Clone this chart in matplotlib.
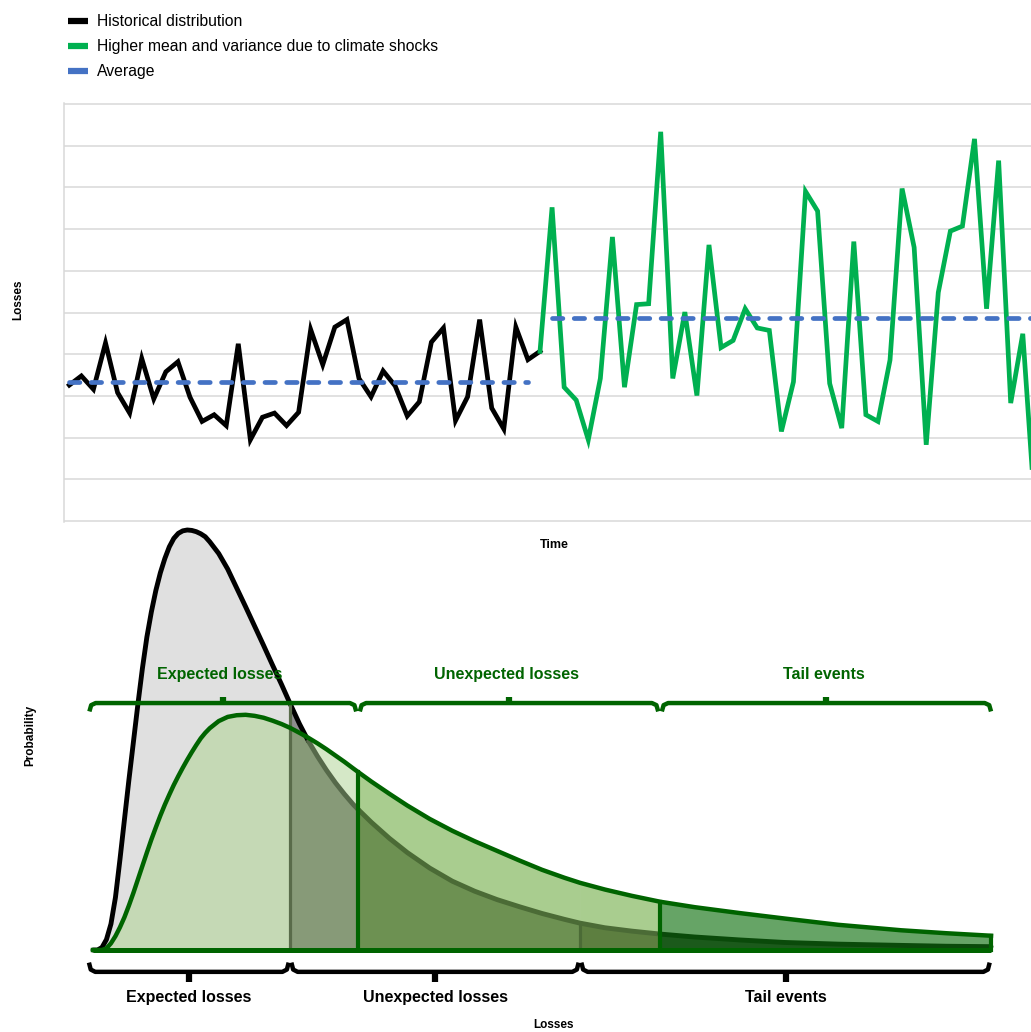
import matplotlib
matplotlib.use("Agg")
import matplotlib.pyplot as plt
import numpy as np
from matplotlib.lines import Line2D

plt.rcParams["font.family"] = ["Liberation Sans", "DejaVu Sans"]

# Top panel: losses over time (grid units 0-10)
hist_losses = [3.26, 3.48, 3.16, 4.27, 3.08, 2.59, 3.90, 2.93, 3.58, 3.82,
               2.97, 2.39, 2.55, 2.29, 4.25, 1.95, 2.49, 2.59, 2.29, 2.61,
               4.59, 3.75, 4.65, 4.83, 3.42, 2.98, 3.60, 3.24, 2.52, 2.86,
               4.29, 4.63, 2.41, 2.98, 4.83, 2.71, 2.21, 4.65, 3.87, 4.07]
shock_losses = [4.07, 7.52, 3.21, 2.90, 1.95, 3.42, 6.81, 3.21, 5.19, 5.21,
                9.33, 3.42, 5.01, 3.01, 6.62, 4.16, 4.33, 5.09, 4.63, 4.57,
                2.15, 3.34, 7.90, 7.43, 3.30, 2.23, 6.70, 2.55, 2.39, 3.86,
                7.97, 6.56, 1.83, 5.48, 6.95, 7.07, 9.16, 5.09, 8.64, 2.83,
                4.49, 0.30]
hist_avg = 3.33
shock_avg = 4.86
legend_labels = ["Historical distribution",
                 "Higher mean and variance due to climate shocks",
                 "Average"]

# Bottom panel: loss distributions (losses 0-100, probability 0-10)
loss_x = [0, 0.5, 1.0, 1.5, 2.0, 2.5, 3.0, 3.5, 4.0, 4.5,
          5.0, 5.5, 6.0, 6.5, 7.0, 7.5, 8.0, 8.5, 9.0, 9.5,
          10.0, 10.5, 11.0, 11.5, 12.0, 12.5, 13, 14, 15, 16,
          17, 18, 19, 20, 21, 21.94, 23, 24, 25, 26,
          27, 28, 29, 29.51, 31, 33, 35, 37.5, 40, 42.5,
          45, 47.5, 50, 52.5, 54.23, 57, 60, 63.14, 67, 72,
          77, 83, 90, 95, 100]
hist_pdf = [0, 0, 0.06, 0.25, 0.62, 1.25, 2.15, 3.10, 4.05, 4.95,
            5.85, 6.70, 7.45, 8.05, 8.56, 8.98, 9.32, 9.60, 9.80, 9.92,
            9.98, 10.0, 9.99, 9.96, 9.91, 9.84, 9.72, 9.44, 9.07, 8.62,
            8.17, 7.71, 7.25, 6.78, 6.32, 5.87, 5.38, 4.97, 4.61, 4.28,
            3.98, 3.71, 3.46, 3.35, 3.04, 2.66, 2.32, 1.95, 1.64, 1.40,
            1.20, 1.03, 0.87, 0.73, 0.64, 0.53, 0.45, 0.38, 0.31, 0.24,
            0.18, 0.14, 0.11, 0.09, 0.08]
shock_pdf = [0, 0, 0, 0.04, 0.16, 0.33, 0.54, 0.78, 1.06, 1.36,
             1.68, 2.00, 2.32, 2.63, 2.92, 3.20, 3.46, 3.70, 3.93, 4.14,
             4.34, 4.53, 4.71, 4.88, 5.04, 5.17, 5.28, 5.45, 5.55, 5.59,
             5.60, 5.575, 5.53, 5.46, 5.38, 5.29, 5.17, 5.05, 4.92, 4.78,
             4.63, 4.48, 4.32, 4.24, 4.01, 3.72, 3.44, 3.12, 2.84, 2.59,
             2.36, 2.13, 1.91, 1.72, 1.60, 1.44, 1.29, 1.15, 1.02, 0.88,
             0.75, 0.60, 0.47, 0.40, 0.34]
hist_cuts = [21.94, 54.23]
shock_cuts = [29.51, 63.14]
segment_labels = ["Expected losses", "Unexpected losses", "Tail events"]

DKGREEN = "#006400"
W, H = 1031, 1032


def px_box(left, top, right, bottom):
    return [left / W, 1 - bottom / H, (right - left) / W, (bottom - top) / H]


fig = plt.figure(figsize=(W / 100, H / 100), dpi=100)

# ---- top panel ----
ax = fig.add_axes(px_box(64, 103, 1062, 522))
t_hist = np.arange(len(hist_losses))
t_shock = np.arange(len(shock_losses)) + len(hist_losses) - 1
ax.plot([0, t_hist[-1] - 1], [hist_avg] * 2, color="#4472C4", lw=3.4,
        dashes=(2.2, 2.4), dash_capstyle="round", zorder=3)
ax.plot([t_shock[1], t_shock[-1] + 3], [shock_avg] * 2, color="#4472C4", lw=3.4,
        dashes=(2.2, 2.4), dash_capstyle="round", zorder=3)
ax.plot(t_hist, hist_losses, color="black", lw=3.4, solid_joinstyle="miter", zorder=2)
ax.plot(t_shock, shock_losses, color="#00B050", lw=3.4, solid_joinstyle="miter", zorder=2)
ax.set_xlim(-0.44, 82.25)
ax.set_ylim(-0.02, 10.02)
ax.set_yticks(range(0, 11))
ax.yaxis.grid(True, color="#d9d9d9", lw=1.1)
ax.set_axisbelow(True)
ax.tick_params(left=False, labelleft=False, bottom=False, labelbottom=False)
for s in ["top", "right", "bottom"]:
    ax.spines[s].set_visible(False)
ax.spines["left"].set_color("#d9d9d9")
ax.spines["left"].set_linewidth(1.1)

handles = [Line2D([], [], color=c, lw=4.5, solid_capstyle="butt")
           for c in ["black", "#00B050", "#4472C4"]]
fig.legend(handles, legend_labels, loc="upper left",
           bbox_to_anchor=(68 / W, 1 - 14 / H), frameon=False, fontsize=11.3,
           handlelength=1.27, handletextpad=0.57, labelspacing=0.64,
           borderpad=0, borderaxespad=0)

fig.text(18 / W, 1 - 300 / H, "Losses", rotation=90, ha="center", va="center",
         fontsize=8.5, fontweight="bold")
fig.text(554 / W, 1 - 545 / H, "Time", ha="center", va="center",
         fontsize=9, fontweight="bold")

# ---- bottom panel ----
bx = fig.add_axes(px_box(40, 520, 1031, 1032))
bx.set_xlim(-5.90, 104.45)
bx.set_ylim(-1.952, 10.238)
bx.axis("off")

x = np.array(loss_x)
b = np.array(hist_pdf)
g = np.array(shock_pdf)
low = np.minimum(b, g)

# (start, end, under both, historical only, shock only)
zones = [
    (0, hist_cuts[0], "#c5d9b5", "#e0e0e0", "#d5e8c7"),
    (hist_cuts[0], shock_cuts[0], "#879a78", "#8e8e8e", "#d5e8c7"),
    (shock_cuts[0], hist_cuts[1], "#6d9152", "#6d9152", "#a9cd8f"),
    (hist_cuts[1], shock_cuts[1], "#5d7f40", "#5d7f40", "#a9cd8f"),
    (shock_cuts[1], 100, "#1b5a1b", "#1b5a1b", "#66a466"),
]
for lo, hi, c_both, c_hist, c_shock in zones:
    m = (x >= lo) & (x <= hi)
    bx.fill_between(x[m], 0, low[m], fc=c_both, ec=c_both, lw=0.5)
    bx.fill_between(x[m], g[m], b[m], where=b[m] >= g[m], interpolate=True,
                    fc=c_hist, ec=c_hist, lw=0.5)
    bx.fill_between(x[m], b[m], g[m], where=g[m] >= b[m], interpolate=True,
                    fc=c_shock, ec=c_shock, lw=0.5)

# historical curve, tinted where the shock fills cover it
hist_line = [(0, 24, "black"), (24, shock_cuts[0], "#56694a"),
             (shock_cuts[0], shock_cuts[1], "#4b6b36"), (shock_cuts[1], 100, "#0a4a0a")]
for lo, hi, c in hist_line:
    m = (x >= lo) & (x <= hi)
    bx.plot(x[m], b[m], color=c, lw=3.5, solid_capstyle="round")
for cut, c in zip(hist_cuts, ["#596b4a", "#4b6b36"]):
    bx.plot([cut, cut], [0, np.interp(cut, x, b)], color=c, lw=2.3)

bx.plot(x, g, color=DKGREEN, lw=3.2)
for cut in shock_cuts + [100]:
    bx.plot([cut, cut], [0, np.interp(cut, x, g)], color=DKGREEN, lw=3.0)
bx.plot([0, 100], [0, 0], color=DKGREEN, lw=3.6, solid_capstyle="butt")


def brace(ax, x0, x1, y, hook, nub, color):
    xs = [x0, x0 + 0.2, x0 + 0.7, x1 - 0.7, x1 - 0.2, x1]
    ys = [y + hook, y + hook * 0.25, y, y, y + hook * 0.25, y + hook]
    ax.plot(xs, ys, color=color, lw=3.2, solid_capstyle="butt", solid_joinstyle="round")
    xc = (x0 + x1) / 2
    ax.plot([xc, xc], [y, y + nub], color=color, lw=4.5, solid_capstyle="butt")
    return xc


edges = [-0.6] + shock_cuts + [100.2]
for i, lab in enumerate(segment_labels):
    xc = brace(bx, edges[i] + 0.2, edges[i + 1] - 0.2, 5.88, -0.2, 0.14, DKGREEN)
    bx.text(xc - 0.3, 6.55, lab, color=DKGREEN, ha="center", va="center",
            fontsize=11.5, fontweight="bold")

edges = [-0.6] + hist_cuts + [100]
for i, lab in enumerate(segment_labels):
    xc = brace(bx, edges[i] + 0.15, edges[i + 1] - 0.15, -0.52, 0.22, -0.24, "black")
    bx.text(xc, -1.14, lab, color="black", ha="center", va="center",
            fontsize=11.5, fontweight="bold")

fig.text(30 / W, 1 - 735 / H, "Probability", rotation=90, ha="center", va="center",
         fontsize=8.5, fontweight="bold")
fig.text(554 / W, 1 - 1025 / H, "Losses", ha="center", va="center",
         fontsize=8.5, fontweight="bold")

fig.savefig("out.png", dpi=100)
